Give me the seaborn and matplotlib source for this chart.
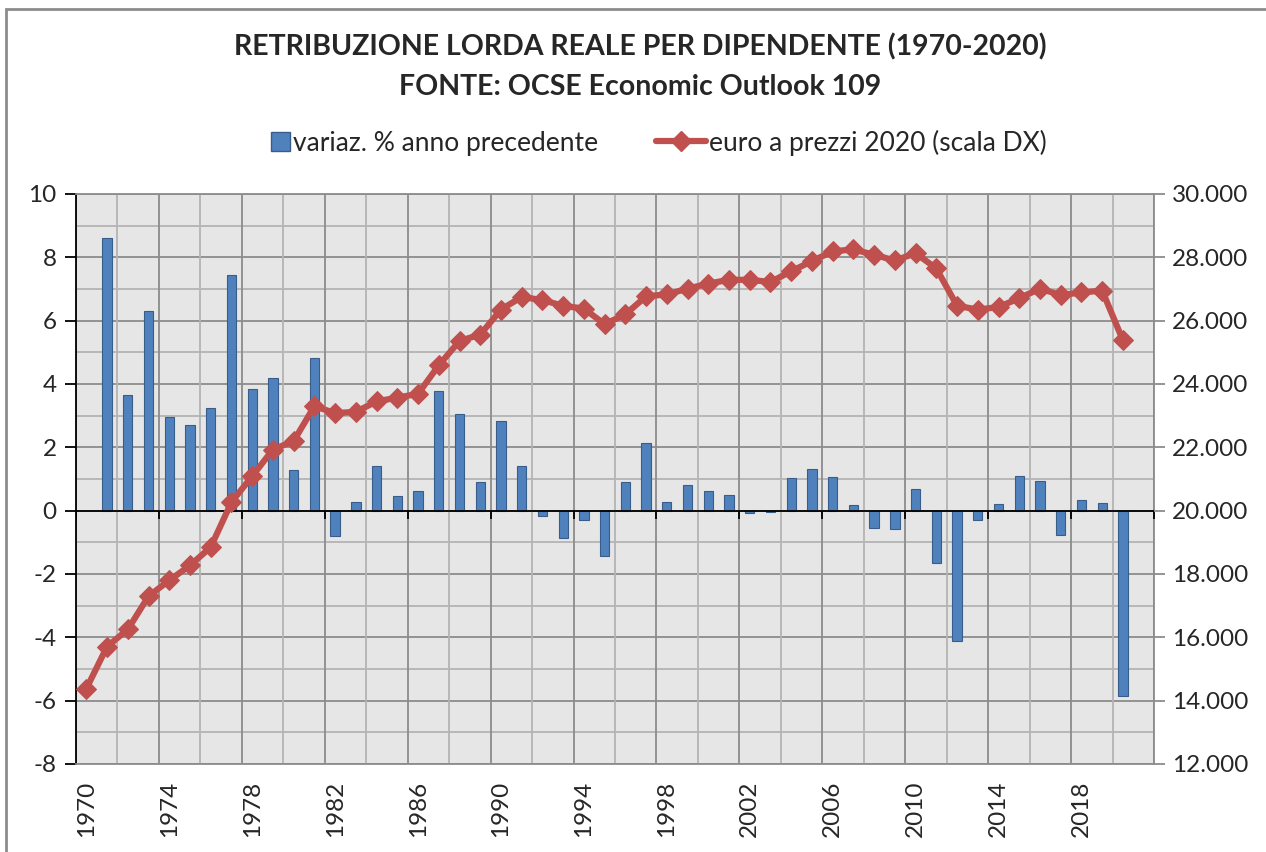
import numpy as np
import pandas as pd
import seaborn as sns
import matplotlib.pyplot as plt
from matplotlib.patches import Patch, Rectangle
from matplotlib.lines import Line2D
from matplotlib.legend_handler import HandlerPatch
from matplotlib.ticker import FuncFormatter

# Data (1970-2020, plus an empty 2021 slot on the axis)
years = list(range(1970, 2022))
var_pct = [np.nan, 8.62, 3.66, 6.32, 2.96, 2.71, 3.23, 7.44, 3.85, 4.20,
           1.28, 4.82, -0.81, 0.27, 1.41, 0.45, 0.62, 3.77, 3.06, 0.92,
           2.84, 1.41, -0.18, -0.85, -0.31, -1.43, 0.92, 2.13, 0.27, 0.80,
           0.62, 0.48, -0.06, -0.05, 1.03, 1.32, 1.06, 0.18, -0.54, -0.59,
           0.67, -1.64, -4.12, -0.28, 0.22, 1.11, 0.93, -0.76, 0.35, 0.23,
           -5.86, np.nan]
euro = [14380, 15710, 16250, 17300, 17800, 18270, 18850, 20270, 21090, 21930,
        22200, 23300, 23080, 23120, 23450, 23570, 23690, 24590, 25360, 25560,
        26350, 26750, 26650, 26470, 26380, 25890, 26200, 26770, 26830, 27010,
        27170, 27290, 27290, 27220, 27560, 27880, 28190, 28250, 28080, 27900,
        28130, 27650, 26470, 26350, 26430, 26710, 27010, 26810, 26890, 26950,
        25380, np.nan]
year_labels = [str(y) for y in years]

df = pd.DataFrame({'anno': year_labels, 'var': var_pct, 'euro': euro})
df['pos'] = np.arange(len(df))

BLUE = '#4F81BD'
RED = '#C0504D'
FONT = ['Lato', 'DejaVu Sans']

sns.set_theme(style='white')
plt.rcParams['font.family'] = FONT
plt.rcParams['axes.unicode_minus'] = False

fig = plt.figure(figsize=(12.66, 8.52), dpi=100)
ax = fig.add_axes([76 / 1266, 1 - 764 / 852, 1078 / 1266, 570 / 852])
ax.set_facecolor('#E6E6E6')

# gridlines
n = len(years)
ax.set_xlim(-0.5, n - 0.5)
ax.set_ylim(-8, 10)
for yv in range(-8, 11):
    ax.axhline(yv, color='#8C8C8C' if yv % 2 == 0 else '#B4B4B4', lw=1.3, zorder=0)
bounds = np.arange(-0.5, n, 2)
for i, xv in enumerate(bounds):
    ax.axvline(xv, color='#8C8C8C' if i % 2 == 0 else '#B4B4B4', lw=1.3, zorder=0)

sns.barplot(data=df, x='anno', y='var', order=year_labels, color=BLUE,
            width=0.45, edgecolor='#385D8A', linewidth=0.8, saturation=1,
            ax=ax, zorder=2)

ax.axhline(0, color='black', lw=1.3, zorder=3)
ticks_x = np.arange(-0.5, n, 4)
ax.plot(ticks_x, np.zeros(len(ticks_x)), linestyle='none', marker=3,
        markersize=6, markeredgewidth=1.3, color='black', zorder=3)

ax.set_xticks(np.arange(0, n, 4))
ax.set_xticklabels(year_labels[::4], rotation=90, fontsize=17.5)
ax.set_yticks(range(-8, 11, 2))
ax.tick_params(axis='y', labelsize=17.5, direction='out', length=8, width=1.3,
               color='black', left=True, pad=6)
ax.tick_params(axis='x', length=0, pad=12)
ax.set_xlabel('')
ax.set_ylabel('')
for s in ['top', 'right', 'bottom']:
    ax.spines[s].set_color('#8C8C8C')
    ax.spines[s].set_linewidth(1.3)
ax.spines['left'].set_color('black')
ax.spines['left'].set_linewidth(1.3)

ax2 = ax.twinx()
sns.lineplot(data=df, x='pos', y='euro', color=RED, lw=4.5, marker='D',
             markersize=10, markeredgecolor=RED, ax=ax2, zorder=4)
ax2.set_ylim(12000, 30000)
ax2.set_yticks(range(12000, 30001, 2000))
ax2.yaxis.set_major_formatter(FuncFormatter(lambda v, p: f'{int(v):,}'.replace(',', '.')))
ax2.tick_params(axis='y', labelsize=17.5, direction='out', length=8, width=1.3,
                color='#8C8C8C', right=True, pad=5)
ax2.set_xlabel('')
ax2.set_ylabel('')
for s in ax2.spines.values():
    s.set_visible(False)
ax2.set_xlim(-0.5, n - 0.5)

fig.text(0.506, 1 - 47 / 852, 'RETRIBUZIONE LORDA REALE PER DIPENDENTE (1970-2020)',
         ha='center', va='center', fontsize=20.5, fontweight='bold')
fig.text(0.506, 1 - 87 / 852, 'FONTE: OCSE Economic Outlook 109',
         ha='center', va='center', fontsize=20.5, fontweight='bold')


def square_patch(legend, orig_handle, xdescent, ydescent, width, height, fontsize):
    side = height * 0.95
    return Rectangle((width - side - xdescent, -ydescent + (height - side) / 2),
                     side, side)


handles = [Patch(facecolor=BLUE, edgecolor='#385D8A'),
           Line2D([0], [0], color=RED, lw=4.5, marker='D', markersize=10)]
fig.legend(handles, ['variaz. % anno precedente', 'euro a prezzi 2020 (scala DX)'],
           loc='center', bbox_to_anchor=(0.508, 1 - 143 / 852), ncol=2,
           frameon=False, fontsize=19, handlelength=1.9, handleheight=0.8,
           handletextpad=0.1, columnspacing=2.2,
           handler_map={Patch: HandlerPatch(patch_func=square_patch)})

fig.patches.append(Rectangle((6 / 1266, -0.1), 2, 1.1 - 9 / 852,
                             transform=fig.transFigure, fill=False,
                             edgecolor='#8C8C8C', lw=2))

fig.savefig('out.png', dpi=100)
